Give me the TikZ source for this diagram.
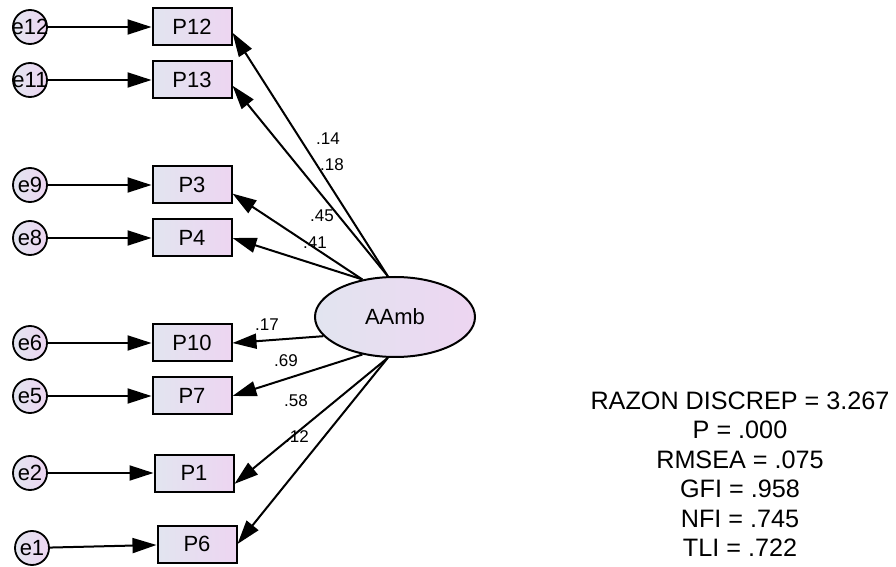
\documentclass[tikz,border=0pt]{standalone}
\usepackage{fontspec}
\setmainfont{Liberation Sans}
\usetikzlibrary{shapes.geometric, arrows.meta}
\definecolor{boxl}{RGB}{226,229,240}
\definecolor{boxr}{RGB}{237,213,241}

\begin{document}
\begin{tikzpicture}[x=0.5pt, y=-0.5pt,
		obs/.style={draw, line width=1pt, left color=boxl, right color=boxr, minimum width=39.5pt, minimum height=18.5pt, inner sep=0pt, font=\fontsize{11}{13}\selectfont},
		err/.style={draw, circle, line width=0.9pt, left color=boxl, right color=boxr, minimum size=17pt, inner sep=0pt, font=\fontsize{11}{13}\selectfont},
		lat/.style={draw, ellipse, line width=1pt, left color=boxl, right color=boxr, minimum width=80pt, minimum height=40pt, inner sep=0pt, font=\fontsize{11}{13}\selectfont},
		coef/.style={inner sep=0pt, font=\fontsize{8.5}{10}\selectfont},
		reg/.style={line width=1pt, -{Triangle[length=12pt,width=7.5pt]}}]
	\useasboundingbox (0,0) rectangle (896,567);
	
	\node[lat] (aamb) at (395,317) {AAmb};
	
	\node[obs] (p12) at (192,27) {P12};
	\node[obs] (p13) at (192,80) {P13};
	\node[obs] (p3) at (192,185) {P3};
	\node[obs] (p4) at (192,238) {P4};
	\node[obs] (p10) at (192,343) {P10};
	\node[obs] (p7) at (192,396) {P7};
	\node[obs] (p1) at (194,473) {P1};
	\node[obs] (p6) at (197,544) {P6};
	
	\node[err] (e12) at (30,27) {\makebox[0pt]{e12}};
	\node[err] (e11) at (30,80) {\makebox[0pt]{e11}};
	\node[err] (e9) at (30,185) {\makebox[0pt]{e9}};
	\node[err] (e8) at (30,238) {\makebox[0pt]{e8}};
	\node[err] (e6) at (30,343) {\makebox[0pt]{e6}};
	\node[err] (e5) at (30,396) {\makebox[0pt]{e5}};
	\node[err] (e2) at (30,473) {\makebox[0pt]{e2}};
	\node[err] (e1) at (32,548) {\makebox[0pt]{e1}};
	
	\draw	(e12) edge[reg] (p12)
			(e11) edge[reg] (p13)
			(e9) edge[reg] (p3)
			(e8) edge[reg] (p4)
			(e6) edge[reg] (p10)
			(e5) edge[reg] (p7)
			(e2) edge[reg] (p1)
			(e1) edge[reg] (p6);
	
	\draw	(aamb.100) edge[reg] (p12.-8)
			(aamb.100) edge[reg] (p13.-8)
			(aamb.131) edge[reg] (p3.-12)
			(aamb.131) edge[reg] (p4.east)
			(aamb.195) edge[reg] (p10.east)
			(aamb.229) edge[reg] (p7.east)
			(aamb.260) edge[reg] (p1.-15)
			(aamb.260) edge[reg] (p6.east);
	
	\node[coef] (c12) at (328,139) {.14};
	\node[coef] (c13) at (332,165) {.18};
	\node[coef] (c3) at (322,216) {.45};
	\node[coef] (c4) at (315,243) {.41};
	\node[coef] (c10) at (267,325) {.17};
	\node[coef] (c7) at (286,361) {.69};
	\node[coef] (c1) at (296,401) {.58};
	\node[coef] (c6) at (297,437) {.12};
	
	\node[align=center, inner sep=0pt, font=\fontsize{12.6}{14.75}\selectfont] (fit) at (740,474)
		{RAZON DISCREP = 3.267\\P = .000\\RMSEA = .075\\GFI = .958\\NFI = .745\\TLI = .722};
\end{tikzpicture}
\end{document}
